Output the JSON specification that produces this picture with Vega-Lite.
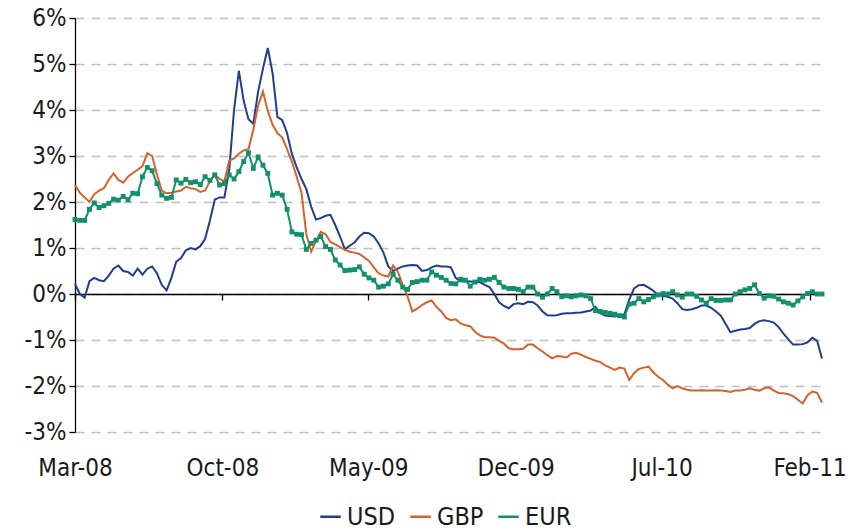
{
  "$schema": "https://vega.github.io/schema/vega-lite/v6.json",
  "width": 747,
  "height": 414,
  "autosize": {"type": "none"},
  "padding": {"left": 75, "top": 18, "right": 28, "bottom": 99},
  "config": {"view": {"stroke": null}, "font": "'Liberation Sans Narrow', 'DejaVu Sans Condensed', 'Liberation Sans', sans-serif"},
  "data": {"values": [
    {"d":"2008-03-01","USD":0.22,"GBP":2.37,"EUR":1.62},
    {"d":"2008-03-08","USD":0.0,"GBP":2.2,"EUR":1.6},
    {"d":"2008-03-15","USD":-0.08,"GBP":2.1,"EUR":1.6},
    {"d":"2008-03-22","USD":0.28,"GBP":2.0,"EUR":1.84},
    {"d":"2008-03-29","USD":0.35,"GBP":2.17,"EUR":1.98},
    {"d":"2008-04-05","USD":0.3,"GBP":2.25,"EUR":1.88},
    {"d":"2008-04-12","USD":0.28,"GBP":2.3,"EUR":1.92},
    {"d":"2008-04-19","USD":0.4,"GBP":2.48,"EUR":1.97},
    {"d":"2008-04-26","USD":0.55,"GBP":2.62,"EUR":2.06},
    {"d":"2008-05-03","USD":0.62,"GBP":2.48,"EUR":2.04},
    {"d":"2008-05-10","USD":0.5,"GBP":2.42,"EUR":2.12},
    {"d":"2008-05-17","USD":0.48,"GBP":2.55,"EUR":2.05},
    {"d":"2008-05-24","USD":0.4,"GBP":2.63,"EUR":2.19},
    {"d":"2008-05-31","USD":0.55,"GBP":2.7,"EUR":2.18},
    {"d":"2008-06-07","USD":0.42,"GBP":2.78,"EUR":2.55},
    {"d":"2008-06-14","USD":0.55,"GBP":3.06,"EUR":2.75},
    {"d":"2008-06-21","USD":0.6,"GBP":3.0,"EUR":2.68},
    {"d":"2008-06-28","USD":0.45,"GBP":2.6,"EUR":2.4},
    {"d":"2008-07-05","USD":0.2,"GBP":2.25,"EUR":2.15},
    {"d":"2008-07-12","USD":0.08,"GBP":2.19,"EUR":2.08},
    {"d":"2008-07-19","USD":0.35,"GBP":2.2,"EUR":2.1},
    {"d":"2008-07-26","USD":0.7,"GBP":2.23,"EUR":2.48},
    {"d":"2008-08-02","USD":0.78,"GBP":2.25,"EUR":2.41},
    {"d":"2008-08-09","USD":0.95,"GBP":2.33,"EUR":2.49},
    {"d":"2008-08-16","USD":1.0,"GBP":2.3,"EUR":2.42},
    {"d":"2008-08-23","USD":0.97,"GBP":2.28,"EUR":2.44},
    {"d":"2008-08-30","USD":1.04,"GBP":2.22,"EUR":2.38},
    {"d":"2008-09-06","USD":1.2,"GBP":2.25,"EUR":2.55},
    {"d":"2008-09-13","USD":1.6,"GBP":2.45,"EUR":2.47},
    {"d":"2008-09-20","USD":2.05,"GBP":2.6,"EUR":2.59},
    {"d":"2008-09-27","USD":2.1,"GBP":2.5,"EUR":2.37},
    {"d":"2008-10-04","USD":2.1,"GBP":2.45,"EUR":2.4},
    {"d":"2008-10-11","USD":2.7,"GBP":2.9,"EUR":2.59},
    {"d":"2008-10-18","USD":4.0,"GBP":2.95,"EUR":2.5},
    {"d":"2008-10-25","USD":4.85,"GBP":3.05,"EUR":2.66},
    {"d":"2008-11-01","USD":4.2,"GBP":3.12,"EUR":2.88},
    {"d":"2008-11-08","USD":3.8,"GBP":3.15,"EUR":3.07},
    {"d":"2008-11-15","USD":3.7,"GBP":3.57,"EUR":2.73},
    {"d":"2008-11-22","USD":4.4,"GBP":4.1,"EUR":2.98},
    {"d":"2008-11-29","USD":4.9,"GBP":4.4,"EUR":2.8},
    {"d":"2008-12-06","USD":5.35,"GBP":3.98,"EUR":2.62},
    {"d":"2008-12-13","USD":4.8,"GBP":3.68,"EUR":2.15},
    {"d":"2008-12-20","USD":3.85,"GBP":3.5,"EUR":2.19},
    {"d":"2008-12-27","USD":3.78,"GBP":3.4,"EUR":2.15},
    {"d":"2009-01-03","USD":3.5,"GBP":3.15,"EUR":1.84},
    {"d":"2009-01-10","USD":3.05,"GBP":2.88,"EUR":1.35},
    {"d":"2009-01-17","USD":2.75,"GBP":2.55,"EUR":1.3},
    {"d":"2009-01-24","USD":2.5,"GBP":2.2,"EUR":1.29},
    {"d":"2009-01-31","USD":2.28,"GBP":1.3,"EUR":0.97},
    {"d":"2009-02-07","USD":1.9,"GBP":0.92,"EUR":1.1},
    {"d":"2009-02-14","USD":1.62,"GBP":1.15,"EUR":1.17},
    {"d":"2009-02-21","USD":1.65,"GBP":1.35,"EUR":1.25},
    {"d":"2009-02-28","USD":1.7,"GBP":1.3,"EUR":1.03},
    {"d":"2009-03-07","USD":1.72,"GBP":1.13,"EUR":0.97},
    {"d":"2009-03-14","USD":1.5,"GBP":1.08,"EUR":0.74},
    {"d":"2009-03-21","USD":1.25,"GBP":1.02,"EUR":0.63},
    {"d":"2009-03-28","USD":0.97,"GBP":0.96,"EUR":0.51},
    {"d":"2009-04-04","USD":1.05,"GBP":0.92,"EUR":0.52},
    {"d":"2009-04-11","USD":1.12,"GBP":0.9,"EUR":0.53},
    {"d":"2009-04-18","USD":1.25,"GBP":0.87,"EUR":0.59},
    {"d":"2009-04-25","USD":1.33,"GBP":0.8,"EUR":0.43},
    {"d":"2009-05-02","USD":1.32,"GBP":0.72,"EUR":0.35},
    {"d":"2009-05-09","USD":1.25,"GBP":0.58,"EUR":0.3},
    {"d":"2009-05-16","USD":1.1,"GBP":0.45,"EUR":0.15},
    {"d":"2009-05-23","USD":0.9,"GBP":0.4,"EUR":0.17},
    {"d":"2009-05-30","USD":0.6,"GBP":0.38,"EUR":0.22},
    {"d":"2009-06-06","USD":0.5,"GBP":0.62,"EUR":0.43},
    {"d":"2009-06-13","USD":0.55,"GBP":0.48,"EUR":0.3},
    {"d":"2009-06-20","USD":0.6,"GBP":0.2,"EUR":0.15},
    {"d":"2009-06-27","USD":0.62,"GBP":-0.05,"EUR":0.1},
    {"d":"2009-07-04","USD":0.63,"GBP":-0.38,"EUR":0.25},
    {"d":"2009-07-11","USD":0.62,"GBP":-0.32,"EUR":0.27},
    {"d":"2009-07-18","USD":0.5,"GBP":-0.24,"EUR":0.3},
    {"d":"2009-07-25","USD":0.52,"GBP":-0.18,"EUR":0.3},
    {"d":"2009-08-01","USD":0.58,"GBP":-0.14,"EUR":0.48},
    {"d":"2009-08-08","USD":0.62,"GBP":-0.28,"EUR":0.41},
    {"d":"2009-08-15","USD":0.6,"GBP":-0.38,"EUR":0.36},
    {"d":"2009-08-22","USD":0.6,"GBP":-0.52,"EUR":0.3},
    {"d":"2009-08-29","USD":0.58,"GBP":-0.57,"EUR":0.23},
    {"d":"2009-09-05","USD":0.35,"GBP":-0.55,"EUR":0.22},
    {"d":"2009-09-12","USD":0.27,"GBP":-0.64,"EUR":0.32},
    {"d":"2009-09-19","USD":0.28,"GBP":-0.68,"EUR":0.3},
    {"d":"2009-09-26","USD":0.27,"GBP":-0.7,"EUR":0.17},
    {"d":"2009-10-03","USD":0.26,"GBP":-0.82,"EUR":0.26},
    {"d":"2009-10-10","USD":0.26,"GBP":-0.9,"EUR":0.32},
    {"d":"2009-10-17","USD":0.2,"GBP":-0.94,"EUR":0.3},
    {"d":"2009-10-24","USD":0.15,"GBP":-0.94,"EUR":0.32},
    {"d":"2009-10-31","USD":0.0,"GBP":-0.95,"EUR":0.36},
    {"d":"2009-11-07","USD":-0.18,"GBP":-1.02,"EUR":0.25},
    {"d":"2009-11-14","USD":-0.26,"GBP":-1.08,"EUR":0.15},
    {"d":"2009-11-21","USD":-0.31,"GBP":-1.18,"EUR":0.12},
    {"d":"2009-11-28","USD":-0.22,"GBP":-1.2,"EUR":0.12},
    {"d":"2009-12-05","USD":-0.2,"GBP":-1.2,"EUR":0.1},
    {"d":"2009-12-12","USD":-0.22,"GBP":-1.19,"EUR":0.05},
    {"d":"2009-12-19","USD":-0.17,"GBP":-1.1,"EUR":0.15},
    {"d":"2009-12-26","USD":-0.18,"GBP":-1.1,"EUR":0.15},
    {"d":"2010-01-02","USD":-0.25,"GBP":-1.18,"EUR":0.0},
    {"d":"2010-01-09","USD":-0.38,"GBP":-1.25,"EUR":-0.07},
    {"d":"2010-01-16","USD":-0.46,"GBP":-1.33,"EUR":0.0},
    {"d":"2010-01-23","USD":-0.47,"GBP":-1.4,"EUR":0.12},
    {"d":"2010-01-30","USD":-0.46,"GBP":-1.35,"EUR":0.05},
    {"d":"2010-02-06","USD":-0.43,"GBP":-1.36,"EUR":-0.06},
    {"d":"2010-02-13","USD":-0.42,"GBP":-1.38,"EUR":-0.04},
    {"d":"2010-02-20","USD":-0.42,"GBP":-1.3,"EUR":-0.06},
    {"d":"2010-02-27","USD":-0.41,"GBP":-1.28,"EUR":-0.04},
    {"d":"2010-03-06","USD":-0.4,"GBP":-1.32,"EUR":-0.02},
    {"d":"2010-03-13","USD":-0.38,"GBP":-1.37,"EUR":-0.04},
    {"d":"2010-03-20","USD":-0.36,"GBP":-1.41,"EUR":-0.1},
    {"d":"2010-03-27","USD":-0.28,"GBP":-1.45,"EUR":-0.36},
    {"d":"2010-04-03","USD":-0.42,"GBP":-1.48,"EUR":-0.38},
    {"d":"2010-04-10","USD":-0.47,"GBP":-1.55,"EUR":-0.4},
    {"d":"2010-04-17","USD":-0.48,"GBP":-1.6,"EUR":-0.42},
    {"d":"2010-04-24","USD":-0.49,"GBP":-1.65,"EUR":-0.44},
    {"d":"2010-05-01","USD":-0.47,"GBP":-1.6,"EUR":-0.47},
    {"d":"2010-05-08","USD":-0.44,"GBP":-1.62,"EUR":-0.5},
    {"d":"2010-05-15","USD":-0.12,"GBP":-1.87,"EUR":-0.22},
    {"d":"2010-05-22","USD":0.12,"GBP":-1.72,"EUR":-0.2},
    {"d":"2010-05-29","USD":0.19,"GBP":-1.63,"EUR":-0.1},
    {"d":"2010-06-05","USD":0.2,"GBP":-1.6,"EUR":-0.17},
    {"d":"2010-06-12","USD":0.14,"GBP":-1.58,"EUR":-0.12},
    {"d":"2010-06-19","USD":0.07,"GBP":-1.7,"EUR":-0.06},
    {"d":"2010-06-26","USD":-0.02,"GBP":-1.8,"EUR":-0.02},
    {"d":"2010-07-03","USD":-0.04,"GBP":-1.87,"EUR":0.01},
    {"d":"2010-07-10","USD":-0.06,"GBP":-1.97,"EUR":0.0},
    {"d":"2010-07-17","USD":-0.1,"GBP":-2.05,"EUR":0.05},
    {"d":"2010-07-24","USD":-0.2,"GBP":-2.0,"EUR":-0.02},
    {"d":"2010-07-31","USD":-0.33,"GBP":-2.05,"EUR":-0.07},
    {"d":"2010-08-07","USD":-0.35,"GBP":-2.08,"EUR":0.0},
    {"d":"2010-08-14","USD":-0.33,"GBP":-2.1,"EUR":0.0},
    {"d":"2010-08-21","USD":-0.3,"GBP":-2.1,"EUR":-0.05},
    {"d":"2010-08-28","USD":-0.25,"GBP":-2.09,"EUR":-0.13},
    {"d":"2010-09-04","USD":-0.25,"GBP":-2.1,"EUR":-0.2},
    {"d":"2010-09-11","USD":-0.3,"GBP":-2.1,"EUR":-0.1},
    {"d":"2010-09-18","USD":-0.38,"GBP":-2.09,"EUR":-0.14},
    {"d":"2010-09-25","USD":-0.47,"GBP":-2.1,"EUR":-0.14},
    {"d":"2010-10-02","USD":-0.65,"GBP":-2.11,"EUR":-0.13},
    {"d":"2010-10-09","USD":-0.83,"GBP":-2.13,"EUR":-0.13},
    {"d":"2010-10-16","USD":-0.8,"GBP":-2.1,"EUR":0.0},
    {"d":"2010-10-23","USD":-0.77,"GBP":-2.1,"EUR":0.05},
    {"d":"2010-10-30","USD":-0.76,"GBP":-2.08,"EUR":0.09},
    {"d":"2010-11-06","USD":-0.74,"GBP":-2.05,"EUR":0.12},
    {"d":"2010-11-13","USD":-0.65,"GBP":-2.08,"EUR":0.2},
    {"d":"2010-11-20","USD":-0.59,"GBP":-2.1,"EUR":0.01},
    {"d":"2010-11-27","USD":-0.57,"GBP":-2.05,"EUR":-0.09},
    {"d":"2010-12-04","USD":-0.59,"GBP":-2.03,"EUR":-0.04},
    {"d":"2010-12-11","USD":-0.62,"GBP":-2.1,"EUR":-0.05},
    {"d":"2010-12-18","USD":-0.72,"GBP":-2.15,"EUR":-0.11},
    {"d":"2010-12-25","USD":-0.86,"GBP":-2.16,"EUR":-0.17},
    {"d":"2011-01-01","USD":-0.98,"GBP":-2.18,"EUR":-0.2},
    {"d":"2011-01-08","USD":-1.1,"GBP":-2.22,"EUR":-0.24},
    {"d":"2011-01-15","USD":-1.1,"GBP":-2.3,"EUR":-0.15},
    {"d":"2011-01-22","USD":-1.09,"GBP":-2.38,"EUR":-0.06},
    {"d":"2011-01-29","USD":-1.05,"GBP":-2.2,"EUR":0.01},
    {"d":"2011-02-05","USD":-0.95,"GBP":-2.12,"EUR":0.05},
    {"d":"2011-02-12","USD":-1.02,"GBP":-2.15,"EUR":0.0},
    {"d":"2011-02-19","USD":-1.4,"GBP":-2.36,"EUR":0.0}
  ]},
  "transform": [{"fold": ["USD", "GBP", "EUR"], "as": ["series", "value"]}],
  "encoding": {
    "x": {
      "field": "d", "type": "temporal",
      "scale": {"type": "utc", "domain": [{"year": 2008, "month": 3, "date": 1, "utc": true}, {"year": 2011, "month": 2, "date": 19, "utc": true}]},
      "axis": {
        "title": null,
        "labelExpr": "utcFormat(datum.value, '%b-%y')",
        "values": [
          {"year": 2008, "month": 3, "date": 1, "utc": true},
          {"year": 2008, "month": 10, "date": 1, "utc": true},
          {"year": 2009, "month": 5, "date": 1, "utc": true},
          {"year": 2009, "month": 12, "date": 1, "utc": true},
          {"year": 2010, "month": 7, "date": 1, "utc": true},
          {"year": 2011, "month": 2, "date": 1, "utc": true}
        ],
        "offset": -138, "grid": false,
        "domainColor": "#000000", "domainWidth": 1.3,
        "tickColor": "#000000", "tickWidth": 1.3, "tickSize": 6,
        "labelPadding": 156, "labelFontSize": 24, "labelColor": "#1a1a1a",
        "labelFlush": false, "labelOverlap": false
      }
    },
    "y": {
      "field": "value", "type": "quantitative",
      "scale": {"domain": [-3, 6], "nice": false, "zero": false},
      "axis": {
        "title": null, "values": [-3, -2, -1, 0, 1, 2, 3, 4, 5, 6],
        "labelExpr": "datum.value + '%'",
        "grid": true, "gridColor": "#bfbfbf", "gridDash": [9, 7], "gridWidth": 1.5,
        "domainColor": "#000000", "domainWidth": 1.3,
        "tickColor": "#000000", "tickWidth": 1.3, "tickSize": 6,
        "labelPadding": 3, "labelFontSize": 24, "labelColor": "#1a1a1a"
      }
    }
  },
  "layer": [
    {
      "mark": {"type": "line", "strokeWidth": 2},
      "encoding": {
        "color": {
          "field": "series", "type": "nominal",
          "scale": {"domain": ["USD", "GBP", "EUR"], "range": ["#1f3f8c", "#d2642c", "#12906b"]},
          "legend": {
            "title": null, "orient": "none", "direction": "horizontal",
            "legendX": 243, "legendY": 486,
            "symbolType": "stroke", "symbolSize": 420, "symbolStrokeWidth": 2.5,
            "labelFontSize": 25, "labelColor": "#1a1a1a", "labelOffset": 4,
            "columnPadding": 9
          }
        }
      }
    },
    {
      "transform": [{"filter": "datum.series === 'EUR'"}],
      "mark": {"type": "square", "size": 24, "filled": true, "opacity": 1, "color": "#12906b"}
    }
  ]
}
